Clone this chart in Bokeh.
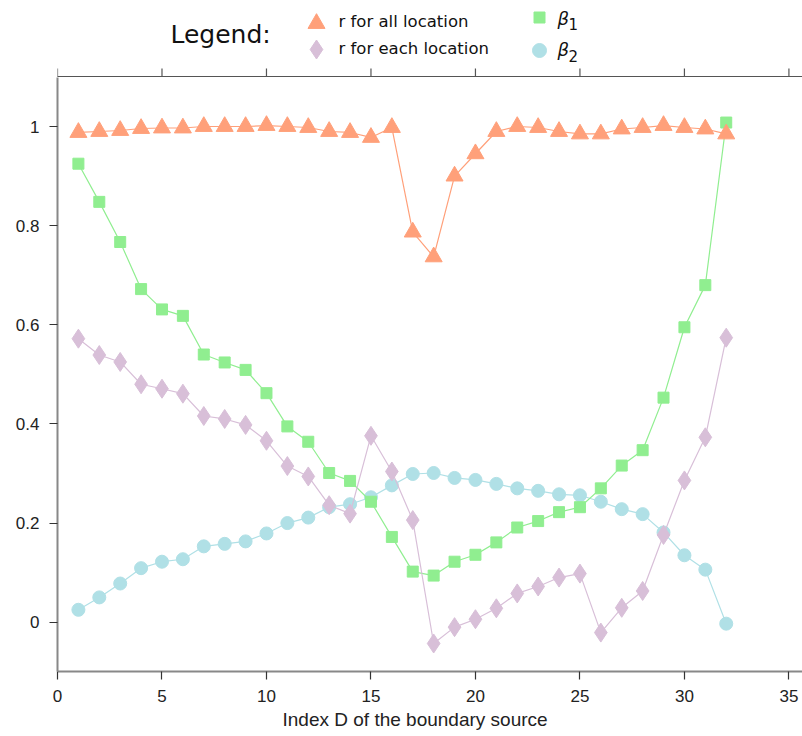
from bokeh.plotting import figure
from bokeh.layouts import column
from bokeh.models import Range1d, FixedTicker, Title
from bokeh.embed import file_html
from bokeh.resources import INLINE
from bokeh.core.properties import value

# ---------------- data ----------------
index_d = list(range(1, 33))
r_all = [0.988, 0.990, 0.992, 0.996, 0.997, 0.997, 1.000, 1.000, 1.000, 1.002,
         1.000, 0.998, 0.990, 0.988, 0.978, 0.998, 0.787, 0.737, 0.900, 0.945,
         0.990, 1.000, 0.998, 0.990, 0.985, 0.985, 0.995, 0.998, 1.002, 0.998,
         0.995, 0.985]
r_each = [0.572, 0.539, 0.525, 0.480, 0.471, 0.461, 0.416, 0.410, 0.398, 0.366,
          0.315, 0.294, 0.236, 0.219, 0.376, 0.304, 0.206, -0.043, -0.010, 0.006,
          0.028, 0.058, 0.072, 0.090, 0.098, -0.021, 0.029, 0.063, 0.176, 0.286,
          0.373, 0.574]
beta1 = [0.925, 0.848, 0.767, 0.672, 0.631, 0.618, 0.540, 0.524, 0.509, 0.462,
         0.395, 0.364, 0.301, 0.285, 0.243, 0.172, 0.102, 0.094, 0.122, 0.136,
         0.161, 0.191, 0.204, 0.222, 0.232, 0.270, 0.316, 0.347, 0.453, 0.595,
         0.680, 1.008]
beta2 = [0.025, 0.050, 0.078, 0.109, 0.122, 0.127, 0.153, 0.158, 0.163, 0.179,
         0.200, 0.211, 0.232, 0.238, 0.252, 0.276, 0.299, 0.301, 0.291, 0.287,
         0.279, 0.270, 0.265, 0.258, 0.256, 0.243, 0.228, 0.218, 0.181, 0.135,
         0.106, -0.003]

x_ticks = [0, 5, 10, 15, 20, 25, 30, 35]
y_ticks = [0, 0.2, 0.4, 0.6, 0.8, 1]
y_tick_labels = ["0", "0.2", "0.4", "0.6", "0.8", "1"]
x_title = "Index D of the boundary source"
legend_title = "Legend:"
legend_labels = ["r for all location", "r for each location"]
beta_symbol = "\u03b2"
beta_subs = ["1", "2"]

C_ALL = "#FFA07A"
C_EACH = "#D8BFD8"
C_B1 = "#90EE90"
C_B2 = "#B0E0E6"
TICK_FONT = "Liberation Sans"
LEG_FONT = "DejaVu Sans"

# layout constants (pixels)
PAGE_W = 802
FRAME_L = 57
FRAME_W = PAGE_W - FRAME_L
LEG_H = 77
X_MAX = 35.65
XS = FRAME_W / X_MAX


def px(xp):
    """page pixel x -> data x (legend strip shares the data x range)"""
    return (xp - FRAME_L) / XS


# ---------------- legend strip (also carries the mirrored top ticks) ----------------
leg = figure(width=PAGE_W, height=LEG_H, x_range=Range1d(0, X_MAX),
             y_range=Range1d(LEG_H, 0), output_backend="svg", toolbar_location=None,
             x_axis_type=None, y_axis_type=None, min_border=0,
             min_border_left=FRAME_L, min_border_right=0)
leg.outline_line_color = None
leg.xgrid.visible = False
leg.ygrid.visible = False

leg.text(x=[px(170)], y=[34], text=[legend_title], text_font=value(LEG_FONT),
         text_font_size="25px", text_color="#111111", text_baseline="alphabetic")
leg.scatter(x=[px(316)], y=[23], marker="triangle", size=17, color=C_ALL)
leg.scatter(x=[px(316)], y=[49], marker="diamond", size=19, color=C_EACH)
leg.text(x=[px(338)] * 2, y=[21, 48], text=legend_labels, text_font=value(LEG_FONT),
         text_font_size="16.5px", text_color="#111111", text_baseline="alphabetic")
leg.scatter(x=[px(539)], y=[17], marker="square", size=11, color=C_B1)
leg.scatter(x=[px(539)], y=[50], marker="circle", size=14, color=C_B2)
leg.text(x=[px(557)] * 2, y=[18, 49], text=[beta_symbol, beta_symbol],
         text_font=value(LEG_FONT), text_font_size="18px", text_font_style="italic",
         text_color="#111111", text_baseline="alphabetic")
leg.text(x=[px(568)] * 2, y=[23, 55], text=beta_subs, text_font=value(LEG_FONT),
         text_font_size="15px", text_color="#111111", text_baseline="alphabetic")

# top border line and outward ticks of the plot frame
leg.segment(x0=[0], y0=[LEG_H - 0.75], x1=[X_MAX], y1=[LEG_H - 0.75],
            line_color="#555555", line_width=1.5)
leg.segment(x0=x_ticks, y0=[LEG_H - 9] * len(x_ticks), x1=x_ticks, y1=[LEG_H] * len(x_ticks),
            line_color="#555555", line_width=1.2)

# ---------------- main plot ----------------
p = figure(frame_width=FRAME_W, frame_height=594,
           x_range=leg.x_range, y_range=Range1d(-0.0995, 1.0989),
           output_backend="svg", toolbar_location=None,
           min_border_left=FRAME_L, min_border_right=0, min_border_top=0, min_border_bottom=10)
p.outline_line_color = None
p.xgrid.visible = False
p.ygrid.visible = False

p.line(index_d, beta2, color=C_B2, line_width=1.2)
p.scatter(index_d, beta2, marker="circle", size=13, color=C_B2)
p.line(index_d, beta1, color=C_B1, line_width=1.2)
p.scatter(index_d, beta1, marker="square", size=11, color=C_B1)
p.line(index_d, r_each, color=C_EACH, line_width=1.2)
p.scatter(index_d, r_each, marker="diamond", size=19, color=C_EACH)
p.line(index_d, r_all, color=C_ALL, line_width=1.2)
p.scatter(index_d, r_all, marker="triangle", size=17, color=C_ALL)

for ax in (p.xaxis[0], p.yaxis[0]):
    ax.axis_line_color = "#888888"
    ax.axis_line_width = 2
    ax.major_tick_line_color = "#333333"
    ax.major_tick_line_width = 1.2
    ax.major_tick_in = 0
    ax.major_tick_out = 8
    ax.minor_tick_line_color = None
    ax.major_label_text_font = TICK_FONT
    ax.major_label_text_font_size = "17px"
    ax.major_label_text_color = "#222222"
    ax.major_label_standoff = 10

p.xaxis[0].ticker = FixedTicker(ticks=x_ticks)
p.yaxis[0].ticker = FixedTicker(ticks=y_ticks)
p.yaxis[0].major_label_overrides = dict(zip(y_ticks, y_tick_labels))

p.add_layout(Title(text=x_title, align="left", offset=225, text_font=TICK_FONT,
                   text_font_size="19px", text_font_style="normal",
                   text_color="#222222", standoff=5), "below")

layout = column(leg, p, spacing=0)
open("out.html", "w").write(file_html(layout, INLINE))
